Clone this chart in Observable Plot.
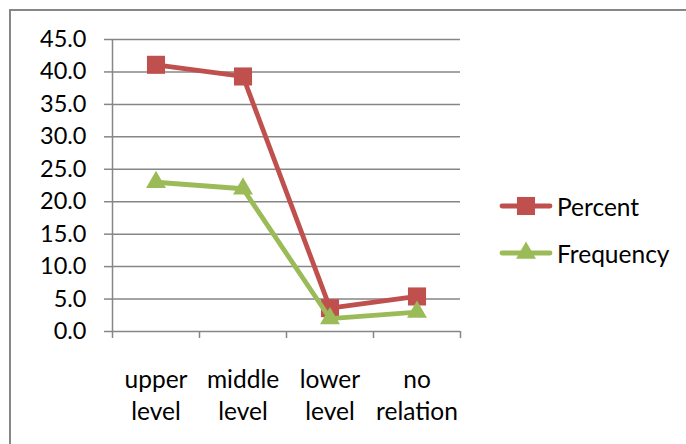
<!DOCTYPE html>
<html>
<head>
<meta charset="utf-8">
<script src="https://cdn.jsdelivr.net/npm/d3@7"></script>
<script src="https://cdn.jsdelivr.net/npm/@observablehq/plot@0.6"></script>
<style>
  html, body { margin: 0; padding: 0; background: #fff; overflow: hidden; }
  #wrap { position: relative; width: 686px; height: 444px; overflow: hidden; font-family: Lato, sans-serif; }
  #border { position: absolute; left: 9px; top: 9px; width: 720px; height: 480px; border: 2px solid #878787; box-sizing: border-box; }
  #chart { position: absolute; left: 0; top: 0; }
  #legend { position: absolute; left: 499px; top: 192px; display: flex; flex-direction: column; gap: 19px; font-size: 24.5px; color: #000; }
  .item { display: flex; align-items: center; height: 28px; gap: 4px; }
</style>
</head>
<body>
<div id="wrap">
  <div id="border"></div>
  <div id="chart"></div>
  <div id="legend"></div>
</div>
<script>
const categories = ["upper level", "middle level", "lower level", "no relation"];
const tickLabels = ["upper\nlevel", "middle\nlevel", "lower\nlevel", "no\nrelation"];
const seriesNames = ["Percent", "Frequency"];
const percent = [41.1, 39.3, 3.6, 5.4];
const frequency = [23, 22, 2, 3];
const yTicks = [0, 5, 10, 15, 20, 25, 30, 35, 40, 45];
const colors = { Percent: "#C0504D", Frequency: "#9BBB59" };

const rows = (name, values) => categories.map((c, i) => ({ category: c, pos: i + 0.5, value: values[i], series: name }));
const percentRows = rows("Percent", percent);
const frequencyRows = rows("Frequency", frequency);
const boundaries = d3.range(categories.length + 1);
const centers = categories.map((c, i) => i + 0.5);

const grey = "#868686";
const chart = Plot.plot({
  width: 686, height: 444,
  marginLeft: 112, marginRight: 226, marginTop: 39, marginBottom: 113,
  x: { domain: [0, categories.length] },
  y: { domain: [0, 45] },
  style: { fontFamily: "Lato, sans-serif", fontSize: "23px", color: "#000", background: "transparent" },
  marks: [
    Plot.ruleY(yTicks, { stroke: grey, strokeWidth: 1.5, strokeOpacity: 1 }),
    Plot.axisY(yTicks, { tickFormat: d => d.toFixed(1), tickSize: 8, tickPadding: 18, stroke: grey, strokeWidth: 1.5, strokeOpacity: 1, fill: "#000", fontSize: 23.5, label: null }),
    Plot.ruleX([0], { stroke: grey, strokeWidth: 1.5, strokeOpacity: 1 }),
    Plot.axisX(boundaries, { tickSize: 7, tickFormat: () => "", stroke: grey, strokeWidth: 1.5, strokeOpacity: 1, label: null }),
    Plot.axisX(centers, { tickSize: 0, tickPadding: 34, tickFormat: d => tickLabels[Math.floor(d)], lineHeight: 1.31, fontSize: 24.5, fill: "#000", label: null }),
    Plot.line(percentRows, { x: "pos", y: "value", stroke: colors.Percent, strokeWidth: 4.8 }),
    Plot.dot(percentRows, { x: "pos", y: "value", symbol: "square", r: 10.2, fill: colors.Percent, stroke: null }),
    Plot.line(frequencyRows, { x: "pos", y: "value", stroke: colors.Frequency, strokeWidth: 4.8 }),
    Plot.dot(frequencyRows, { x: "pos", y: "value", symbol: "triangle", r: 7.4, fill: colors.Frequency, stroke: null })
  ]
});
document.getElementById("chart").appendChild(chart);

// Legend
const legend = document.getElementById("legend");
seriesNames.forEach(name => {
  const item = document.createElement("div");
  item.className = "item";
  const w = 54, h = 28, c = colors[name];
  const sym = d3.symbol(name === "Percent" ? d3.symbolSquare : d3.symbolTriangle, name === "Percent" ? Math.PI * 10.2 * 10.2 : Math.PI * 7.4 * 7.4)();
  item.innerHTML = `<svg width="${w}" height="${h}"><line x1="3" x2="${w - 3}" y1="${h / 2}" y2="${h / 2}" stroke="${c}" stroke-width="4.8" stroke-linecap="round"/><path d="${sym}" transform="translate(${w / 2},${h / 2})" fill="${c}"/></svg><span>${name}</span>`;
  legend.appendChild(item);
});
</script>
</body>
</html>
